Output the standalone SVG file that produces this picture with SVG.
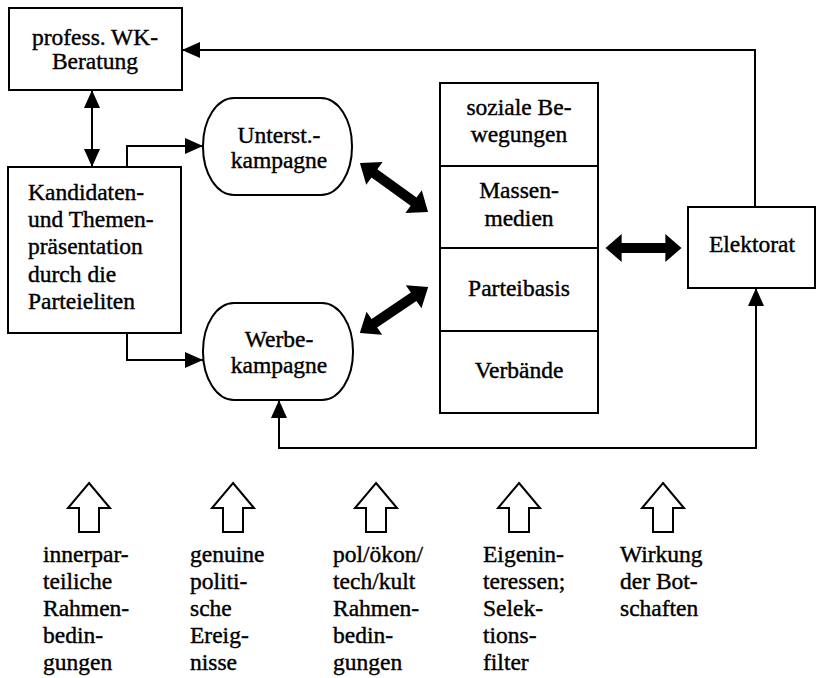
<svg xmlns="http://www.w3.org/2000/svg" xmlns:xlink="http://www.w3.org/1999/xlink" width="817" height="678" viewBox="0 0 817 678">
<style>
  .box { fill: #fff; stroke: #000; stroke-width: 2; }
  .ln { fill: none; stroke: #000; stroke-width: 2; }
  .thick { fill: #000; stroke: none; }
  .hollow { fill: #fff; stroke: #000; stroke-width: 2; stroke-linejoin: miter; }
  .c { text-anchor: middle; }
  text { stroke: #000; stroke-width: 0.4; }
</style>
<defs>
  <marker id="ah" viewBox="0 0 18 16" refX="18" refY="8" markerWidth="18" markerHeight="16" markerUnits="userSpaceOnUse" orient="auto-start-reverse">
    <path d="M0,0 L18,8 L0,16 Z" fill="#000"/>
  </marker>
  <path id="dbl" d="M-40,0 L-23,-14 L-23,-5 L23,-5 L23,-14 L40,0 L23,14 L23,5 L-23,5 L-23,14 Z"/>
  <path id="up" d="M0,0 L21,25 L10,25 L10,49 L-10,49 L-10,25 L-21,25 Z"/>
</defs>

<g id="connectors">
  <line class="ln" x1="92" y1="90" x2="92" y2="167" marker-start="url(#ah)" marker-end="url(#ah)"/>
  <polyline class="ln" points="127,167 127,146 203,146" marker-end="url(#ah)"/>
  <polyline class="ln" points="127,333 127,360 203,360" marker-end="url(#ah)"/>
  <polyline class="ln" points="755,207 755,50 182,50" marker-end="url(#ah)"/>
  <polyline class="ln" points="279,400 279,448 756,448 756,288" marker-start="url(#ah)" marker-end="url(#ah)"/>
  <use href="#dbl" class="thick" transform="translate(394,187.5) rotate(35.8) scale(1.05,1)"/>
  <use href="#dbl" class="thick" transform="translate(394,310) rotate(-34) scale(1.03,1)"/>
  <use href="#dbl" class="thick" transform="translate(643.5,248) scale(0.95,1)"/>
</g>

<g font-family="Liberation Serif, Times New Roman, serif" font-size="23.5" fill="#000">
<g id="node-beratung">
  <rect class="box" x="9" y="8" width="173" height="82"/>
  <text class="c" x="95" y="45">profess. WK-</text>
  <text class="c" x="95" y="69">Beratung</text>
</g>

<g id="node-kandidaten">
  <rect class="box" x="8" y="167" width="173" height="166"/>
  <text x="28" y="200">Kandidaten-</text>
  <text x="28" y="227">und Themen-</text>
  <text x="28" y="254">präsentation</text>
  <text x="28" y="282">durch die</text>
  <text x="28" y="309">Parteieliten</text>
</g>

<g id="node-unterst">
  <rect class="box" x="203" y="98" width="149" height="97" rx="31" ry="48"/>
  <text class="c" x="279" y="143">Unterst.-</text>
  <text class="c" x="279" y="168">kampagne</text>
</g>

<g id="node-werbe">
  <rect class="box" x="203" y="303" width="150" height="97" rx="31" ry="48"/>
  <text class="c" x="279" y="347">Werbe-</text>
  <text class="c" x="279" y="373">kampagne</text>
</g>

<g id="node-akteure">
  <rect class="box" x="440" y="83" width="158" height="330"/>
  <line class="ln" x1="440" y1="166" x2="598" y2="166"/>
  <line class="ln" x1="440" y1="248" x2="598" y2="248"/>
  <line class="ln" x1="440" y1="331" x2="598" y2="331"/>
  <g id="node-soziale">
    <text class="c" x="519" y="115">soziale Be-</text>
    <text class="c" x="519" y="142">wegungen</text>
  </g>
  <g id="node-massenmedien">
    <text class="c" x="519" y="198">Massen-</text>
    <text class="c" x="519" y="226">medien</text>
  </g>
  <g id="node-parteibasis">
    <text class="c" x="519" y="296">Parteibasis</text>
  </g>
  <g id="node-verbaende">
    <text class="c" x="519" y="378">Verbände</text>
  </g>
</g>

<g id="node-elektorat">
  <rect class="box" x="688" y="207" width="127" height="81"/>
  <text class="c" x="752" y="252">Elektorat</text>
</g>

<g id="factor-1">
  <use href="#up" class="hollow" x="89" y="483"/>
  <text x="43" y="562">innerpar-</text>
  <text x="43" y="589">teiliche</text>
  <text x="43" y="616">Rahmen-</text>
  <text x="43" y="643">bedin-</text>
  <text x="43" y="670">gungen</text>
</g>
<g id="factor-2">
  <use href="#up" class="hollow" x="233" y="483"/>
  <text x="190" y="562">genuine</text>
  <text x="190" y="589">politi-</text>
  <text x="190" y="616">sche</text>
  <text x="190" y="643">Ereig-</text>
  <text x="190" y="670">nisse</text>
</g>
<g id="factor-3">
  <use href="#up" class="hollow" x="376" y="483"/>
  <text x="333" y="562">pol/ökon/</text>
  <text x="333" y="589">tech/kult</text>
  <text x="333" y="616">Rahmen-</text>
  <text x="333" y="643">bedin-</text>
  <text x="333" y="670">gungen</text>
</g>
<g id="factor-4">
  <use href="#up" class="hollow" x="519" y="483"/>
  <text x="483" y="562">Eigenin-</text>
  <text x="483" y="589">teressen;</text>
  <text x="483" y="616">Selek-</text>
  <text x="483" y="643">tions-</text>
  <text x="483" y="670">filter</text>
</g>
<g id="factor-5">
  <use href="#up" class="hollow" x="663" y="483"/>
  <text x="620" y="562">Wirkung</text>
  <text x="620" y="589">der Bot-</text>
  <text x="620" y="616">schaften</text>
</g>
</g>
</svg>
